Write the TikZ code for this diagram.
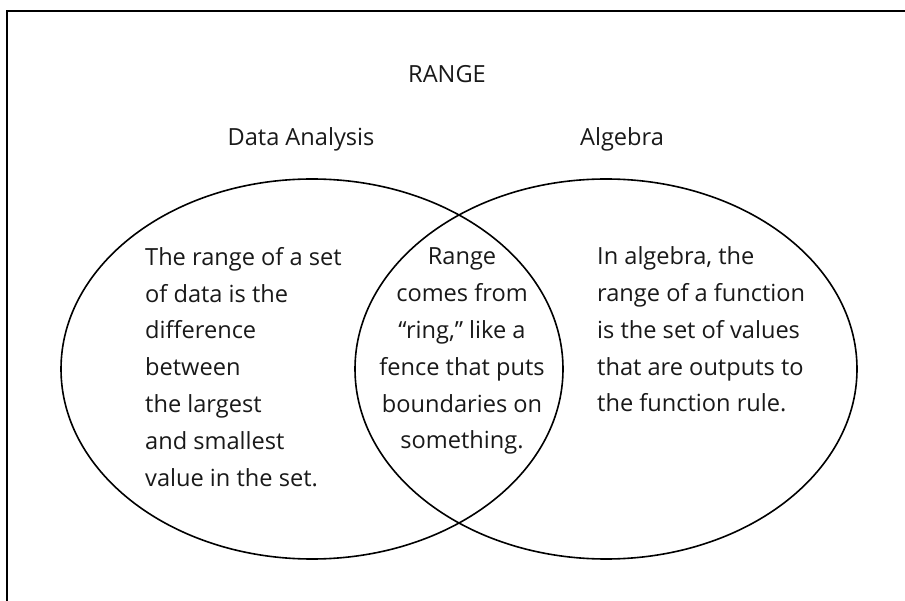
\documentclass[tikz,border=0pt]{standalone}
\usepackage{fontspec}
\usepackage{tikz}
\usetikzlibrary{shapes.geometric}
\newfontfamily\vennfont{Open Sans}

\begin{document}
\begin{tikzpicture}[x=1pt,y=-1pt,
                    set/.style={draw,ellipse,line width=1.6pt,minimum width=502pt,minimum height=380pt,inner sep=0pt},
                    words/.style={font=\vennfont\fontsize{23.6}{36.8}\selectfont,text=black!90,inner sep=0pt}]

\useasboundingbox (0,0) rectangle (905,601);
\draw[line width=1.8pt] (905,11) -- (7,11) -- (7,601);

\node[set] (data) at (312,369) {};
\node[set] (alg)  at (606,369) {};

\node[words,anchor=base] (title) at (447,83) {RANGE};
\node[words,anchor=base] (dname) at (301,146) {Data Analysis};
\node[words,anchor=base] (aname) at (622,146) {Algebra};

% multi-line blocks are placed by the baseline of their last line
\node[words,anchor=base west,align=left] (dtext) at (145,486)
  {The range of a set\\of data is the\\difference\\between\\the largest\\and smallest\\value in the set.};
\node[words,anchor=base,align=center] (both) at (462,449)
  {Range\\comes from\\“ring,” like a\\fence that puts\\boundaries on\\something.};
\node[words,anchor=base west,align=left] (atext) at (597,412)
  {In algebra, the\\range of a function\\is the set of values\\that are outputs to\\the function rule.};
\end{tikzpicture}
\end{document}
